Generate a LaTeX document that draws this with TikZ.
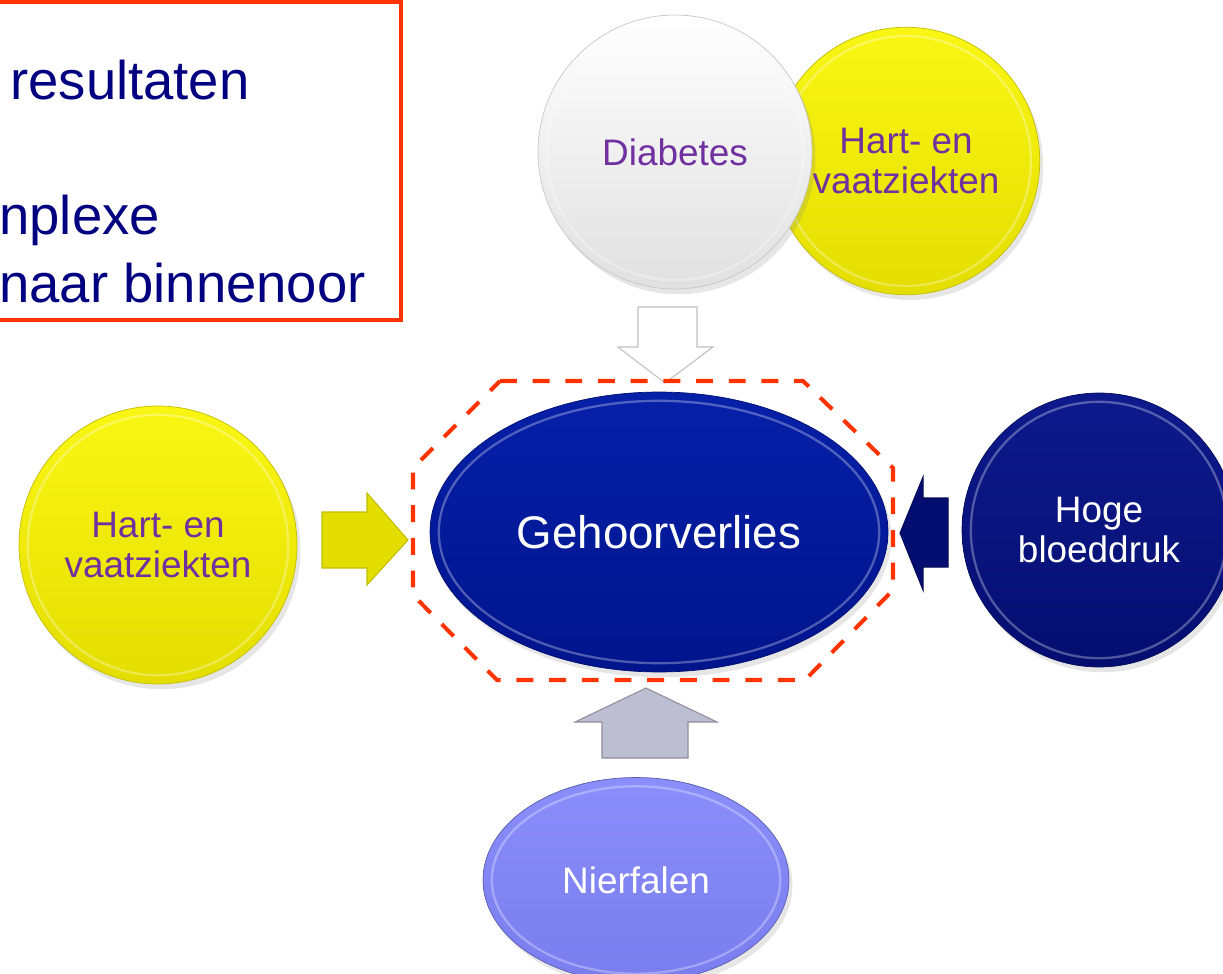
\documentclass[tikz,border=0pt]{standalone}
\usepackage{fontspec}
\setmainfont{Liberation Sans}
\usetikzlibrary{calc,shadows,shapes.geometric}

\definecolor{framered}{RGB}{255,51,0}
\definecolor{navytext}{RGB}{0,0,128}
\definecolor{purpletext}{RGB}{112,48,160}
\definecolor{yellowtop}{RGB}{250,246,20}
\definecolor{yellowbot}{RGB}{228,222,0}
\definecolor{blueA}{RGB}{6,32,168}
\definecolor{blueB}{RGB}{0,20,140}
\definecolor{navyA}{RGB}{14,26,140}
\definecolor{navyB}{RGB}{4,14,112}
\definecolor{lilac}{RGB}{128,132,250}
\definecolor{arrowgrey}{RGB}{190,190,210}

\tikzset{
    disc/.style={inner sep=0pt, align=center,
        font=\fontsize{21}{22.7}\selectfont,
        drop shadow={shadow xshift=2pt, shadow yshift=-3pt, opacity=0.2},
        path picture={
            \draw[white, opacity=0.3, line width=1.3pt]
                let \p1=(path picture bounding box.north east),
                    \p2=(path picture bounding box.south west) in
                (path picture bounding box.center) ellipse
                [x radius={((\x1)-(\x2))/2-5pt}, y radius={((\y1)-(\y2))/2-5pt}];
        }},
    yellowdisc/.style={disc, circle, top color=yellowtop, bottom color=yellowbot,
        draw=yellowbot!85!black, text=purpletext},
    bigtext/.style={inner sep=0pt, anchor=base west, text=navytext,
        font=\fontsize{31}{38}\selectfont},
    blockarrow/.style={line width=0.6pt, line join=miter}
}

\begin{document}
\begin{tikzpicture}[x=0.02cm, y=-0.02cm]
    \clip (0,0) rectangle (1223,973);

    % red frame with the cut-off text
    \draw[framered, line width=2.3pt] (-10,2) rectangle (401,320);
    \node[bigtext] (res) at (10,100) {resultaten};
    \node[bigtext] (plex) at (-1,235) {nplexe};
    \node[bigtext] (binnen) at (-1,302) {naar binnenoor};

    % top pair
    \node[yellowdisc, minimum size=5.35cm] (hartT) at (906,161) {Hart- en\\vaatziekten};
    \node[disc, circle, minimum size=5.48cm, top color=white, bottom color=black!12,
        draw=black!22, text=purpletext] (diab) at (675,152) {Diabetes};

    % side and bottom causes
    \node[yellowdisc, minimum size=5.56cm] (hartL) at (158,545) {Hart- en\\vaatziekten};
    \node[disc, circle, minimum size=5.48cm, top color=navyA, bottom color=navyB,
        draw=navyB!80!black, text=white] (hoge) at (1099,530) {Hoge\\bloeddruk};
    \node[disc, ellipse, minimum width=6.12cm, minimum height=4.1cm, top color=lilac!92!white,
        bottom color=lilac!95!black, draw=lilac!70!black, text=white] (nier) at (636,880) {Nierfalen};

    % block arrows
    \draw[blockarrow, fill=white, draw=black!25]
        (638,307) -- (697,307) -- (697,347) -- (713,347) -- (665,383) -- (618,347) -- (638,347) -- cycle;
    \draw[blockarrow, fill=yellowbot, draw=yellowbot!85!black]
        (322,512) -- (367,512) -- (367,493) -- (408,540) -- (367,585) -- (367,568) -- (322,568) -- cycle;
    \draw[blockarrow, fill=navyB, draw=navyB!80!black]
        (948,498) -- (923,498) -- (923,477) -- (900,533) -- (923,590) -- (923,567) -- (948,567) -- cycle;
    \draw[blockarrow, fill=arrowgrey, draw=arrowgrey!75!black]
        (602,758) -- (602,722) -- (575,722) -- (646,688) -- (717,722) -- (688,722) -- (688,758) -- cycle;

    % centre
    \node[disc, ellipse, minimum width=9.16cm, minimum height=5.6cm, top color=blueA,
        bottom color=blueB, draw=blueB!80!black, text=white,
        font=\fontsize{26}{30}\selectfont] (gehoor) at (659,532) {Gehoorverlies};

    \draw[framered, line width=2.3pt, dash pattern=on 9.6pt off 9pt]
        (500,381) -- (803,381) -- (893,468) -- (893,590) -- (805,680)
        -- (497,680) -- (413,595) -- (413,468) -- cycle;
\end{tikzpicture}
\end{document}
